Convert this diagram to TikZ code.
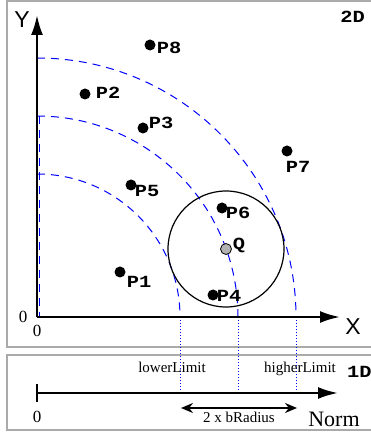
\documentclass[tikz,border=0pt]{standalone}
\usepackage{fontspec}
\usepackage{graphicx}
\setmainfont{Liberation Serif}
\newfontfamily\axfont{Liberation Sans}
\newfontfamily\lblfont{Liberation Mono}
\newcommand\widelbl[1]{\scalebox{1.2}[1]{#1}}
\usetikzlibrary{arrows.meta}
\definecolor{framegray}{RGB}{170,170,170}
\tikzset{
  frame/.style={draw=framegray, line width=1.5pt},
  axis/.style={line width=2.5pt, -{Latex[length=20pt,width=12pt]}},
  arcline/.style={blue, line width=1pt, dash pattern=on 8pt off 6pt},
  dotline/.style={blue, line width=1pt, dotted},
  pt/.style={circle, fill=black, inner sep=0pt, minimum size=11pt},
  qpt/.style={circle, fill=black!30, draw=black, line width=0.8pt, inner sep=0pt, minimum size=11pt},
  lbl/.style={inner sep=0pt, font=\lblfont\bfseries\fontsize{17}{17}\selectfont},
  axlbl/.style={inner sep=0pt, font=\axfont\fontsize{23}{23}\selectfont},
  zero/.style={inner sep=0pt, font=\fontsize{17}{17}\selectfont},
  small/.style={inner sep=0pt, font=\fontsize{15}{15}\selectfont},
}
\begin{document}
\begin{tikzpicture}[x=1pt,y=1pt]
\useasboundingbox (-37,-118) rectangle (333,317);
\fill[white] (-37,-118) rectangle (333,317);
% frames
\draw[frame] (-30,316) rectangle (345,-30);
\draw[frame] (-30,-38) rectangle (345,-113);
% origin and axes
\coordinate (O) at (0,0);
\coordinate (Ytip) at (0,302);
\coordinate (Xtip) at (303,0);
% dashed arcs
\draw[arcline] (0,143) arc[start angle=90, end angle=0, radius=143];
\draw[arcline] (0,201) arc[start angle=90, end angle=0, radius=201];
\draw[arcline] (0,259) arc[start angle=90, end angle=0, radius=259];
\draw[arcline] (2,201) -- (2,0);
% circle
\node[draw, circle, line width=1.2pt, minimum size=116pt, inner sep=0pt] (C) at (189,68) {};
% dotted projections
\coordinate (L1) at (143,0); \coordinate (L2) at (143,-76);
\coordinate (M1) at (201,0); \coordinate (M2) at (201,-76);
\coordinate (H1) at (259,0); \coordinate (H2) at (259,-76);
\draw[dotline] (L1) -- (L2);
\draw[dotline] (M1) -- (M2);
\draw[dotline] (H1) -- (H2);
% axes
\draw[axis] (O) -- (Ytip);
\draw[axis] (O) -- (Xtip);
\node[axlbl] (Ylbl) at (-15,297) {Y};
\node[axlbl] (Xlbl) at (316,-10) {X};
\node[zero] (z1) at (-14,0) {0};
\node[zero] (z2) at (0,-14) {0};
\node[lbl] (t2D) at (315.5,300) {\widelbl{2D}};
% points
\node[pt] (P8) at (113,272) {}; \node[lbl] (P8l) at (132,269) {\widelbl{P8}};
\node[pt] (P2) at (48,223) {};  \node[lbl] (P2l) at (71,224) {\widelbl{P2}};
\node[pt] (P3) at (106,189) {}; \node[lbl] (P3l) at (124,194) {\widelbl{P3}};
\node[pt] (P5) at (94,132) {};  \node[lbl] (P5l) at (110,126) {\widelbl{P5}};
\node[pt] (P7) at (250,166) {}; \node[lbl] (P7l) at (261,150) {\widelbl{P7}};
\node[pt] (P6) at (185,109) {}; \node[lbl] (P6l) at (201,104) {\widelbl{P6}};
\node[qpt] (Q) at (189,68) {};  \node[lbl] (Ql) at (202,72) {\widelbl{Q}};
\node[pt] (P4) at (176,22) {};  \node[lbl] (P4l) at (192,21) {\widelbl{P4}};
\node[pt] (P1) at (83,45) {};   \node[lbl] (P1l) at (102,35) {\widelbl{P1}};
% 1D
\coordinate (N0) at (0,-76);
\coordinate (Ntip) at (301,-76);
\draw[axis] (N0) -- (Ntip);
\coordinate (T1) at (0,-67); \coordinate (T2) at (0,-85);
\draw[line width=1.5pt] (T1) -- (T2);
\node[zero] (z3) at (0,-100) {0};
\node[inner sep=0pt, font=\fontsize{22}{22}\selectfont] (norm) at (297,-102) {Norm};
\node[small, anchor=base] (low) at (135,-56) {lowerLimit};
\node[small, anchor=base] (high) at (263,-56) {higherLimit};
\node[lbl, anchor=west] (t1D) at (310,-55) {\widelbl{1D}};
\coordinate (A1) at (144,-91); \coordinate (A2) at (260,-91);
\draw[line width=1.5pt, {Stealth[length=12pt,width=10pt]}-{Stealth[length=12pt,width=10pt]}] (A1) -- (A2);
\node[small, anchor=base] (brad) at (202,-105) {2 x bRadius};
\end{tikzpicture}
\end{document}
